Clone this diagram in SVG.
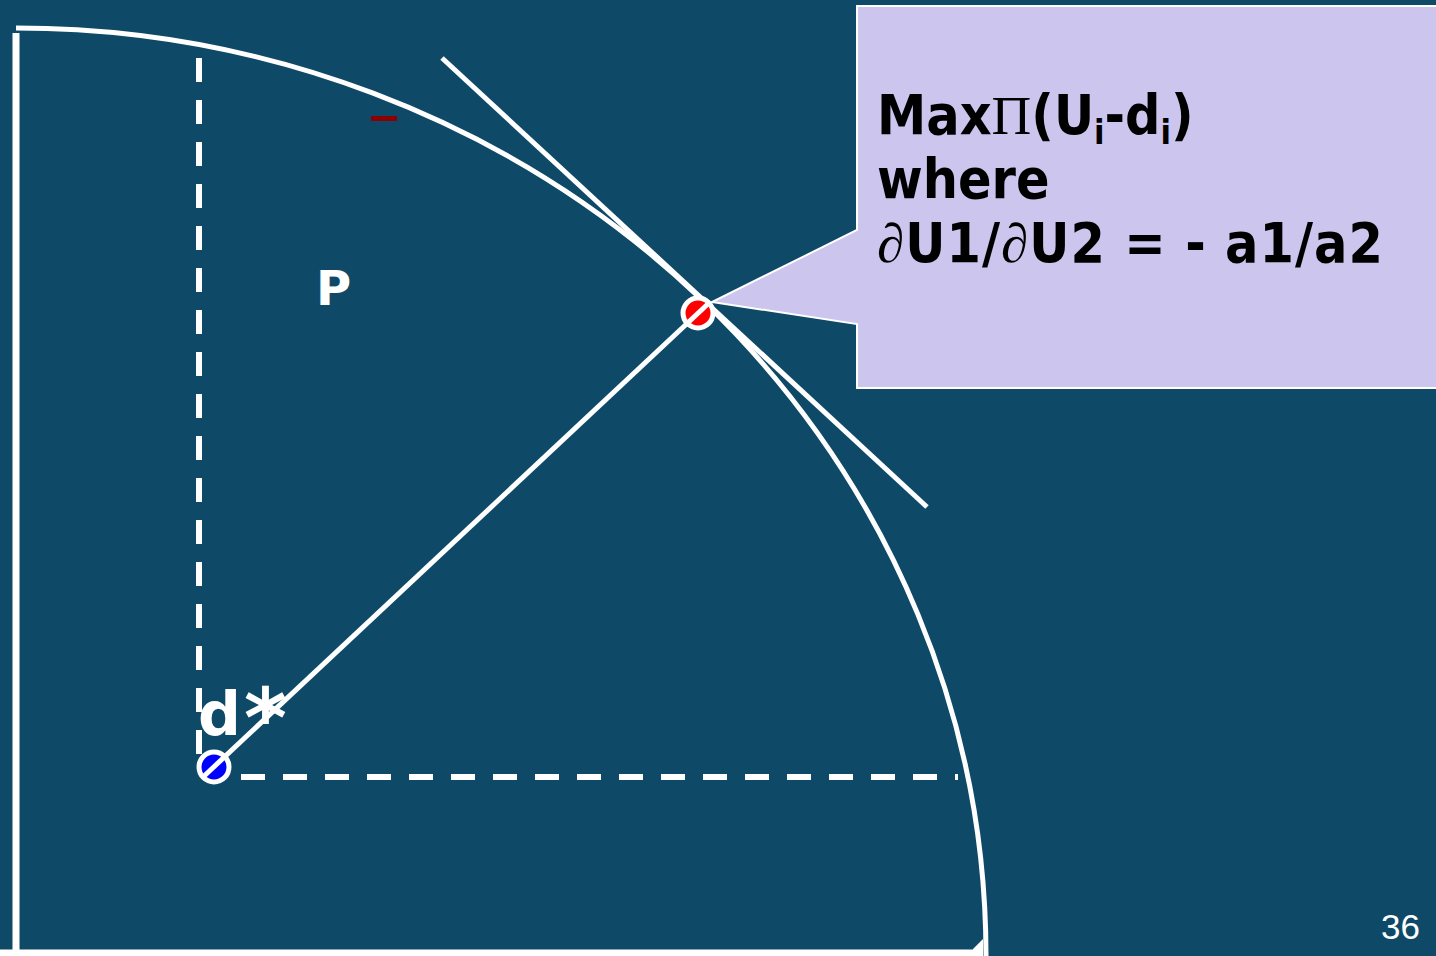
<svg xmlns="http://www.w3.org/2000/svg" width="1436" height="956" viewBox="0 0 1436 956">
<style>
.w{stroke:#FFFFFF;fill:none;stroke-width:5}
.dash{stroke:#FFFFFF;fill:none;stroke-width:6;stroke-dasharray:24 18}
.lbl{font-family:"DejaVu Sans",sans-serif;font-weight:bold;fill:#FFFFFF}
.cal{font-family:"DejaVu Sans Condensed","DejaVu Sans",sans-serif;font-weight:bold;font-size:55px;fill:#000000}
.sym{font-family:"Liberation Serif",serif;font-weight:normal}
</style>
<rect x="0" y="0" width="1436" height="956" fill="#0E4A68"/>
<g id="axes">
<line x1="16" y1="33" x2="16" y2="956" stroke="#FFFFFF" stroke-width="7"/>
<line x1="0" y1="953" x2="972" y2="953" stroke="#FFFFFF" stroke-width="7"/>
<polygon points="966,956 983,939 983,956" fill="#FFFFFF"/>
</g>
<g id="frontier">
<path class="w" d="M16,28 A970,928 0 0 1 986,956"/>
</g>
<g id="connectors">
<line class="dash" x1="199" y1="58" x2="199" y2="770"/>
<line class="dash" x1="241" y1="777" x2="958" y2="777"/>
<line class="w" x1="442" y1="58" x2="927" y2="507"/>
</g>
<g id="callout">
<path d="M857,6 H1438 V388 H857 V324 L712,302 L857,230 Z" fill="#CCC6EE" stroke="#FFFFFF" stroke-width="2"/>
<text class="cal" x="877" y="134">Max<tspan class="sym">Π</tspan>(U<tspan font-size="34" dy="10">i</tspan><tspan dy="-10">-d</tspan><tspan font-size="34" dy="10">i</tspan><tspan dy="-10">)</tspan></text>
<text class="cal" x="877" y="198">where</text>
<text class="cal" x="877" y="262" textLength="506" lengthAdjust="spacing"><tspan class="sym">∂</tspan>U1/<tspan class="sym">∂</tspan>U2 = - a1/a2</text>
</g>
<g id="blue-dot">
<circle cx="214" cy="767" r="15" fill="#0000FF" stroke="#FFFFFF" stroke-width="5"/>
</g>
<g id="red-dot">
<circle cx="698" cy="313" r="15" fill="#FF0000" stroke="#FFFFFF" stroke-width="5"/>
</g>
<g id="ray">
<line class="w" x1="202" y1="778" x2="710" y2="302"/>
</g>
<g id="labels">
<rect x="371" y="116" width="26" height="5" fill="#8B0000"/>
<text class="lbl" x="316" y="305" font-size="48">P</text>
<text class="lbl" x="198" y="735" font-size="60">d<tspan x="244" font-size="82" dy="12">*</tspan></text>
<text x="1381" y="939" font-family="Liberation Sans,Arial,sans-serif" font-size="35" fill="#FFFFFF">36</text>
</g>
</svg>
